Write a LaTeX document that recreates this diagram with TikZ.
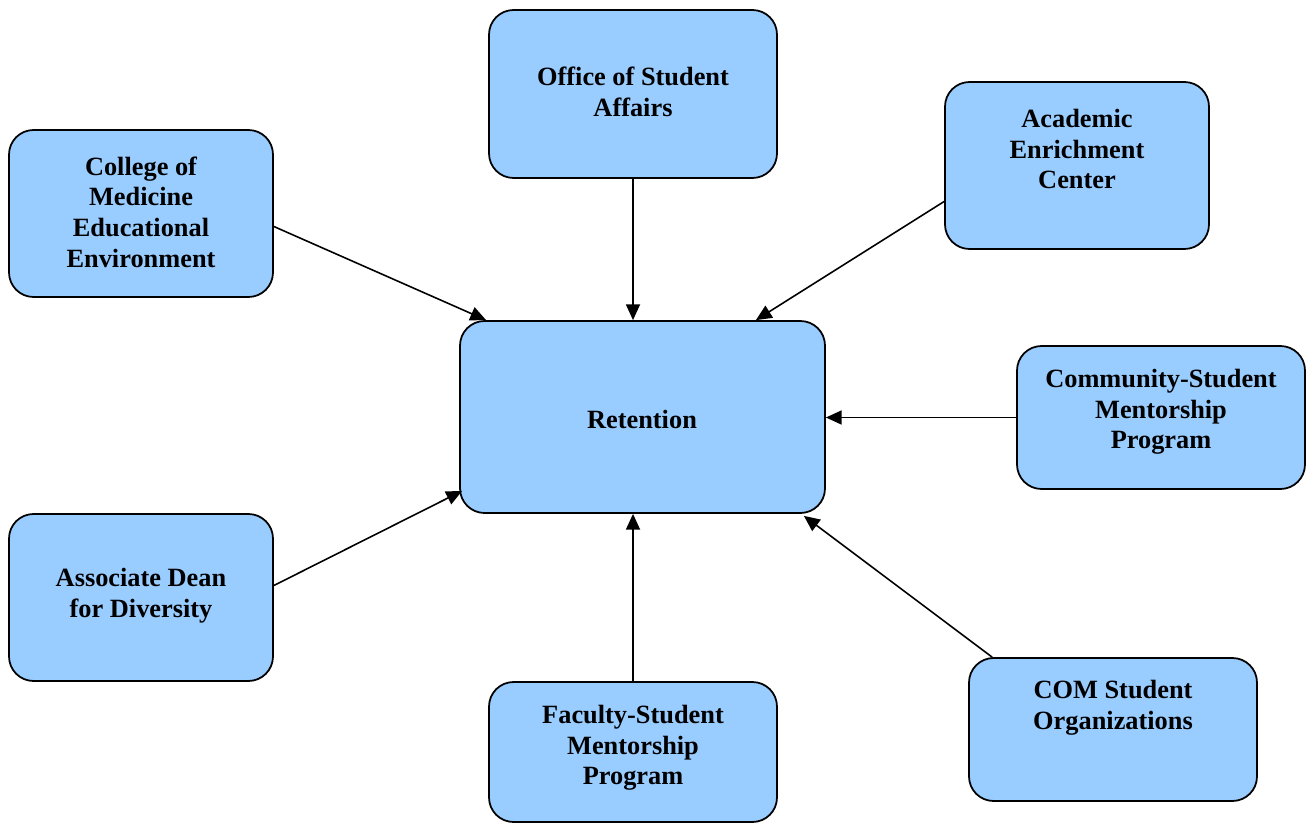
\documentclass[tikz,border=0pt]{standalone}
\usepackage{fontspec}
\setmainfont{Liberation Serif}
\usepackage{xcolor}
\usepackage{tikz}
\usetikzlibrary{arrows.meta, fit, calc}
\definecolor{boxfill}{RGB}{153, 204, 255}

\begin{document}
\begin{tikzpicture}[
  x=0.02cm, y=-0.02cm,
  every node/.style={font=\fontsize{15}{17.5}\selectfont\bfseries},
  box/.style={rectangle, rounded corners=14pt, draw, line width=1pt, fill=boxfill, inner sep=0pt},
  txt/.style={align=center, inner sep=0pt},
  arrow/.style={-{Triangle[length=9pt, width=8pt]}, line width=0.9pt},
]
  \useasboundingbox (0,0) rectangle (1311,824);

  % boxes
  \node[box, fit={(460,321) (825,513)}] (ret) {};
  \node[box, fit={(489,10) (777,178)}] (osa) {};
  \node[box, fit={(945,82) (1209,249)}] (aec) {};
  \node[box, fit={(9,130) (273,297)}] (com) {};
  \node[box, fit={(1017,346) (1305,489)}] (csmp) {};
  \node[box, fit={(9,514) (273,681)}] (add) {};
  \node[box, fit={(489,682) (777,822)}] (fsmp) {};
  \node[box, fit={(969,658) (1257,801)}] (comso) {};

  % texts
  \node[txt] (ret-t) at (642,419) {Retention};
  \node[txt] (osa-t) at (633,92) {Office of Student\\Affairs};
  \node[txt] (aec-t) at (1077,149) {Academic\\Enrichment\\Center};
  \node[txt] (com-t) at (141,212) {College of\\Medicine\\Educational\\Environment};
  \node[txt] (csmp-t) at (1161,412) {Community-Student\\Mentorship\\Program};
  \node[txt] (add-t) at (141,596) {Associate Dean\\for Diversity};
  \node[txt] (fsmp-t) at (633,748) {Faculty-Student\\Mentorship\\Program};
  \node[txt] (comso-t) at (1113,708) {COM Student\\Organizations};

  % connectors
  \draw[arrow] ($(com.east)+(0,13)$) -- ($(ret.north west)+(27,0)$);
  \draw[arrow] (osa.south) -- (osa.south |- ret.north);
  \draw[arrow] ($(aec.west)+(0,36)$) -- ($(ret.north east)+(-70,0)$);
  \draw[arrow] (csmp.west) -- (csmp.west -| ret.east);
  \draw[arrow] ($(add.east)+(0,-12)$) -- ($(ret.south west)+(3,-23)$);
  \draw[arrow] (fsmp.north) -- (fsmp.north |- ret.south);
  \draw[arrow] ($(comso.north west)+(24,0)$) -- ($(ret.south east)+(-22,2)$);
\end{tikzpicture}
\end{document}
